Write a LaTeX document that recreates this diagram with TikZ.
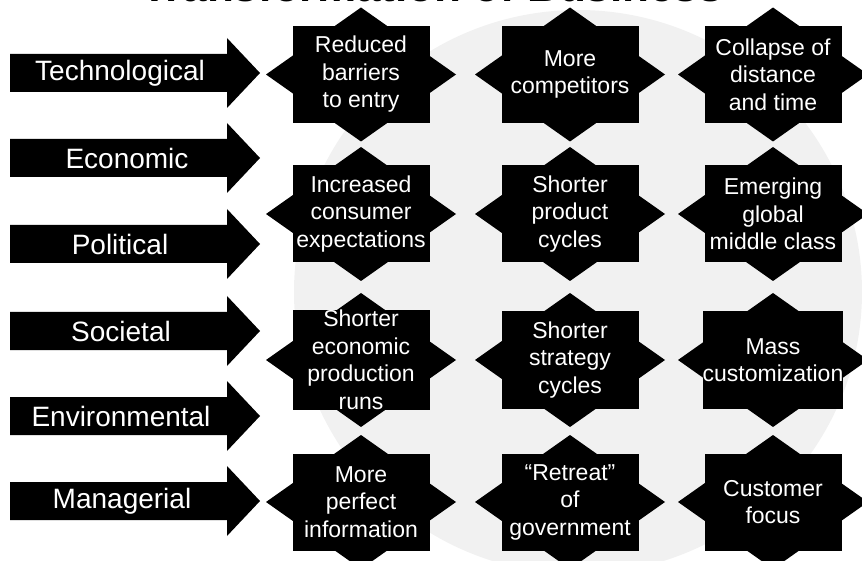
\documentclass[tikz,border=0pt]{standalone}
\usepackage{fontspec}
\setmainfont{Liberation Sans}
\usetikzlibrary{shapes.geometric}
\begin{document}
\begin{tikzpicture}[x=1pt,y=-1pt,
  dia/.style={diamond, fill=black, minimum width=190pt, minimum height=134pt, inner sep=0pt, outer sep=0pt},
  sq/.style={rectangle, fill=black, text=white, minimum width=137pt, minimum height=97pt, inner sep=0pt, align=center, font=\fontsize{23}{27.5}\selectfont},
  lab/.style={text=white, inner sep=0pt, font=\fontsize{28}{30}\selectfont},
  arrowfill/.style={fill=black}]
\useasboundingbox (0,0) rectangle (862,561);
\clip (0,0) rectangle (862,561);
% background globe
\fill[gray!11] (578,292) ellipse [x radius=284pt, y radius=282pt];
% title (cut off by the top edge, as in the reference)
\node[anchor=base, inner sep=0pt, font=\bfseries\fontsize{44}{44}\selectfont] (title) at (432,1.5) {Transformation of Business};
% left arrows
\foreach \yy/\txt/\nm/\xx in {73/Technological/tech/120, 158/Economic/econ/127, 244/Political/poli/120, 331/Societal/soci/121, 416/Environmental/envi/121, 501/Managerial/mana/122}{
  \fill[arrowfill] (10,\yy-19) -- (227,\yy-19) -- (227,\yy-35) -- (260,\yy) -- (227,\yy+35) -- (227,\yy+19) -- (10,\yy+19) -- cycle;
  \node[lab] (\nm) at (\xx,\yy) {\txt};
}
% stars
\foreach \cx/\cy/\nm/\txt in {
  361/74.5/r1c1/{Reduced\\barriers\\to entry},
  570/74.5/r1c2/{More\\competitors},
  773/74.5/r1c3/{Collapse of\\distance\\and time},
  361/214/r2c1/{Increased\\consumer\\expectations},
  570/214/r2c2/{Shorter\\product\\cycles},
  773/214/r2c3/{Emerging\\global\\middle class},
  361/360/r3c1/{Shorter\\economic\\production\\runs},
  570/360/r3c2/{Shorter\\strategy\\cycles},
  773/360/r3c3/{Mass\\customization},
  361/502/r4c1/{More\\perfect\\information},
  570/502/r4c2/{``Retreat''\\of\\government},
  773/502/r4c3/{Customer\\focus}}{
  \node[dia] (d\nm) at (\cx,\cy) {};
  \node[sq] (\nm) at (\cx,\cy) {\txt};
}
\end{tikzpicture}
\end{document}
